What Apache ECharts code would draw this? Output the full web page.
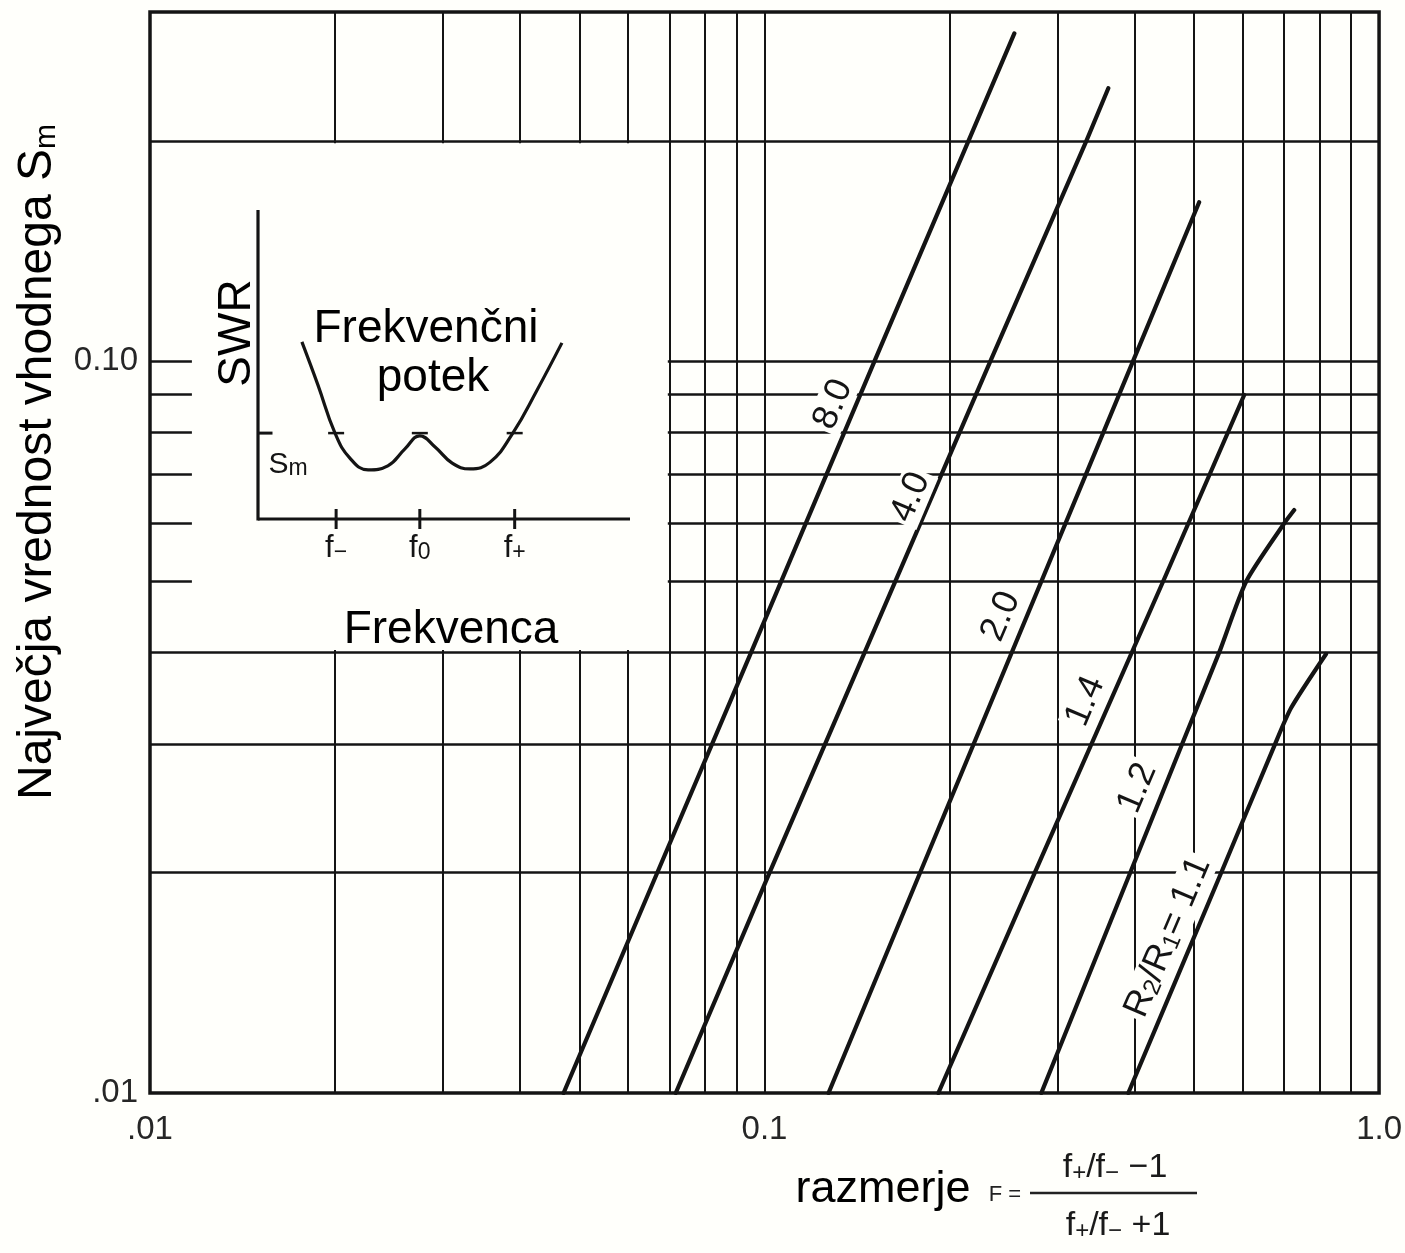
<!DOCTYPE html>
<html>
<head>
<meta charset="utf-8">
<title>Največja vrednost vhodnega S_m</title>
<script src="https://cdn.jsdelivr.net/npm/echarts@6/dist/echarts.min.js"></script>
<style>
  html, body { margin: 0; padding: 0; background: #fffffb; }
  #chart { width: 1405px; height: 1253px; }
</style>
</head>
<body>
<div id="chart"></div>
<script>
// ---- data: ratio F against the largest input SWR deviation S_m, one curve per R2/R1 ----
const ratioNames = ['8.0', '4.0', '2.0', '1.4', '1.2', '1.1'];

const curve80 = [[0.0471, 0.010], [0.0669, 0.020], [0.0951, 0.040], [0.151, 0.100], [0.255, 0.2805]];
const curve40 = [[0.0717, 0.010], [0.1019, 0.020], [0.2331, 0.100], [0.334, 0.200], [0.3626, 0.236]];
const curve20 = [[0.1271, 0.010], [0.1791, 0.020], [0.3978, 0.100], [0.5096, 0.1649]];
const curve14 = [[0.1918, 0.010], [0.2753, 0.020], [0.4452, 0.050], [0.6033, 0.0899]];
const curve12 = [[0.2821, 0.010], [0.3936, 0.020], [0.4783, 0.030], [0.5494, 0.040], [0.6078, 0.050], [0.7006, 0.060], [0.7276, 0.0626]];
const curve11 = [[0.3908, 0.010], [0.5535, 0.020], [0.6775, 0.030], [0.7194, 0.0336], [0.8199, 0.0398]];
const curves = [curve80, curve40, curve20, curve14, curve12, curve11];

// log-paper rulings
const xGridValues = [0.02, 0.03, 0.04, 0.05, 0.06, 0.07, 0.08, 0.09, 0.1, 0.2, 0.3, 0.4, 0.5, 0.6, 0.7, 0.8, 0.9];
const yGridValues = [0.02, 0.03, 0.04, 0.05, 0.06, 0.07, 0.08, 0.09, 0.1, 0.2];

const xTickValues = [0.01, 0.1, 1];
const xTickLabels = ['.01', '0.1', '1.0'];
const yTickValues = [0.01, 0.1];
const yTickLabels = ['.01', '0.10'];

// small sketch of the SWR response over frequency
const insetCurve = [[1.18, 5.73], [1.61, 4.34], [2.07, 2.78], [2.47, 1.97], [2.96, 1.59], [3.49, 1.72], [3.95, 2.27],
                    [4.35, 2.69], [4.76, 2.33], [5.22, 1.81], [5.70, 1.62], [6.24, 1.84], [6.85, 2.78], [7.50, 4.17], [8.17, 5.70]];
const insetFreqTicks = [2.1, 4.35, 6.9];
const insetFreqSubs = ['−', '0', '+'];
const insetSm = 2.78;
const insetRange = [0, 10];

// ---- layout ----
const W = 1405, H = 1253;
const GRID = { left: 150, right: 25, top: 12, bottom: 160 };
const pxPerDecadeX = (W - GRID.left - GRID.right) / 2;
const INK = '#141414';
const BG = '#fffffb';
const SANS = "'Liberation Sans', Arial, Helvetica, sans-serif";

// cleared area of the log paper that carries the sketch: [F left, S top, F right, S bottom]
const panelBox = [[0.0117, 0.1985, 0.0696, 0.0403]];

// where each curve name sits: S value along the curve and a sideways shift in px
const curveLabelPlace = [
  { s: 0.0873, dx: -23 },
  { s: 0.0652, dx: -21 },
  { s: 0.0448, dx: -26 },
  { s: 0.0343, dx: -25 },
  { s: 0.0261, dx: -27 },
  { s: 0.01633, dx: -26 }
];
const LABEL_ANGLE = 67;

function lookupLabel(v, values, labels) {
  for (let i = 0; i < values.length; i++) {
    if (Math.abs(v - values[i]) / values[i] < 1e-6) return labels[i];
  }
  return '';
}

// F on a curve at a given S, interpolated in log-log space
function fAtS(curve, s) {
  const ls = Math.log10(s);
  for (let i = 0; i < curve.length - 1; i++) {
    const la = Math.log10(curve[i][1]), lb = Math.log10(curve[i + 1][1]);
    if (ls >= la && ls <= lb) {
      const t = (ls - la) / (lb - la);
      const fa = Math.log10(curve[i][0]), fb = Math.log10(curve[i + 1][0]);
      return Math.pow(10, fa + t * (fb - fa));
    }
  }
  return curve[0][0];
}

const subRich = {
  t: { fontSize: 36, lineHeight: 36, fontFamily: SANS, color: INK },
  s: { fontSize: 24, lineHeight: 12, verticalAlign: 'bottom', fontFamily: SANS, color: INK }
};

function curveLabelText(i) {
  if (i === ratioNames.length - 1) return '{t|R}{s|2}{t|/R}{s|1}{t|= ' + ratioNames[i] + '}';
  return '{t|' + ratioNames[i] + '}';
}

const series = [];

// rulings (kept underneath everything else)
series.push({
  type: 'line', name: 'rulings', data: [], xAxisIndex: 0, yAxisIndex: 0, z: 1, silent: true,
  markLine: {
    z: 1, silent: true, symbol: ['none', 'none'], animation: false,
    label: { show: false },
    data: xGridValues.map(v => ({ xAxis: v, lineStyle: { color: INK, width: 2, type: 'solid' } }))
      .concat(yGridValues.map(v => ({ yAxis: v, lineStyle: { color: INK, width: 2.6, type: 'solid' } })))
  }
});

// clear panel that holds the sketch
series.push({
  type: 'custom', name: 'panel', xAxisIndex: 0, yAxisIndex: 0, z: 2, silent: true, clip: false,
  data: panelBox,
  encode: { x: [0, 2], y: [1, 3] },
  renderItem: function (params, api) {
    const p1 = api.coord([api.value(0), api.value(1)]);
    const p2 = api.coord([api.value(2), api.value(3)]);
    return { type: 'rect', z2: 10, shape: { x: p1[0], y: p1[1], width: p2[0] - p1[0], height: p2[1] - p1[1] },
             style: { fill: BG } };
  }
});

curves.forEach((c, i) => {
  const place = curveLabelPlace[i];
  const fc = fAtS(c, place.s);
  const fl = fc * Math.pow(10, place.dx / pxPerDecadeX);
  series.push({
    type: 'line', name: 'R2/R1 = ' + ratioNames[i], data: c, xAxisIndex: 0, yAxisIndex: 0, z: 3,
    showSymbol: false, smooth: i >= 4 ? 0.22 : false,
    lineStyle: { color: INK, width: 4.2, cap: 'round', join: 'round' },
    markPoint: {
      z: 6, silent: true, animation: false, symbol: 'circle', symbolSize: 2,
      itemStyle: { color: BG, opacity: 1 },
      data: [{
        coord: [fl, place.s],
        label: {
          show: true, position: 'inside', rotate: LABEL_ANGLE,
          formatter: curveLabelText(i), rich: subRich,
          backgroundColor: BG, padding: [0, 3, 0, 3]
        }
      }]
    }
  });
});

// sketch axes
series.push({
  type: 'custom', name: 'sketch axes', xAxisIndex: 1, yAxisIndex: 1, z: 5, silent: true, clip: false,
  data: [[insetRange[0], insetRange[0]]],
  renderItem: function (params, api) {
    const o = api.coord([insetRange[0], insetRange[0]]);
    const xe = api.coord([insetRange[1], insetRange[0]]);
    const ye = api.coord([insetRange[0], insetRange[1]]);
    return { type: 'group', children: [
      { type: 'line', shape: { x1: o[0], y1: o[1], x2: xe[0], y2: xe[1] }, style: { stroke: INK, lineWidth: 3.2 } },
      { type: 'line', shape: { x1: o[0], y1: o[1] + 1.5, x2: ye[0], y2: ye[1] }, style: { stroke: INK, lineWidth: 3.2 } }
    ] };
  }
});
// sketch curve
series.push({
  type: 'line', name: 'SWR', data: insetCurve, xAxisIndex: 1, yAxisIndex: 1, z: 5,
  showSymbol: false, smooth: 0.45, lineStyle: { color: INK, width: 3.2 }
});
// frequency ticks with f-, f0, f+
series.push({
  type: 'scatter', data: insetFreqTicks.map(v => [v, 0]), xAxisIndex: 1, yAxisIndex: 1, z: 5,
  symbol: 'rect', symbolSize: [3, 20], clip: false, itemStyle: { color: INK, opacity: 1 },
  label: {
    show: true, position: 'bottom', distance: 4,
    formatter: p => '{f|f}{s|' + insetFreqSubs[p.dataIndex] + '}',
    rich: {
      f: { fontSize: 31, lineHeight: 31, fontFamily: SANS, color: INK },
      s: { fontSize: 23, lineHeight: 10, verticalAlign: 'bottom', fontFamily: SANS, color: INK }
    }
  }
});
// S_m marks on the curve
series.push({
  type: 'scatter', data: insetFreqTicks.map(v => [v, insetSm]), xAxisIndex: 1, yAxisIndex: 1, z: 5,
  symbol: 'rect', symbolSize: [16, 2.5], clip: false, itemStyle: { color: INK, opacity: 1 }
});
// S_m tick on the SWR axis
series.push({
  type: 'scatter', data: [[insetRange[0], insetSm]], xAxisIndex: 1, yAxisIndex: 1, z: 5,
  symbol: 'rect', symbolSize: [15, 3], symbolOffset: [7, 0], clip: false, itemStyle: { color: INK, opacity: 1 },
  label: {
    show: true, position: 'inside', offset: [23, 32],
    formatter: '{a|S}{b|m}',
    rich: {
      a: { fontSize: 30, lineHeight: 30, fontFamily: SANS, color: INK },
      b: { fontSize: 23, lineHeight: 10, verticalAlign: 'bottom', fontFamily: SANS, color: INK }
    }
  }
});

const option = {
  backgroundColor: BG,
  animation: false,
  grid: [
    { left: GRID.left, right: GRID.right, top: GRID.top, bottom: GRID.bottom, show: true,
      borderColor: INK, borderWidth: 3.5, backgroundColor: 'transparent' },
    { left: 258, top: 210, width: 372, height: 309, show: false }
  ],
  xAxis: [
    { type: 'log', logBase: 10, min: 0.01, max: 1, gridIndex: 0,
      axisLine: { show: false }, axisTick: { show: false }, splitLine: { show: false }, minorSplitLine: { show: false },
      axisLabel: { customValues: xTickValues, margin: 20, fontSize: 33, fontFamily: SANS, color: '#262626',
                   formatter: v => lookupLabel(v, xTickValues, xTickLabels) } },
    { type: 'value', min: insetRange[0], max: insetRange[1], gridIndex: 1,
      axisLine: { show: false }, axisTick: { show: false }, splitLine: { show: false }, axisLabel: { show: false } }
  ],
  yAxis: [
    { type: 'log', logBase: 10, min: 0.01, max: 0.3, gridIndex: 0,
      axisLine: { show: false }, axisTick: { show: false }, splitLine: { show: false }, minorSplitLine: { show: false },
      axisLabel: { customValues: yTickValues, margin: 12, fontSize: 33, fontFamily: SANS, color: '#262626',
                   formatter: v => lookupLabel(v, yTickValues, yTickLabels) } },
    { type: 'value', min: insetRange[0], max: insetRange[1], gridIndex: 1,
      axisLine: { show: false }, axisTick: { show: false }, splitLine: { show: false }, axisLabel: { show: false } }
  ],
  graphic: [
    { type: 'text', x: 38, y: 462, rotation: Math.PI / 2, z: 10,
      style: { text: '{a|Največja vrednost vhodnega S}{b|m}', align: 'center', verticalAlign: 'middle',
        rich: {
          a: { fontSize: 48, lineHeight: 48, fontFamily: SANS, fill: '#000', color: '#000' },
          b: { fontSize: 30, lineHeight: 14, verticalAlign: 'bottom', fontFamily: SANS, fill: '#000', color: '#000' }
        } } },
    { type: 'text', x: 237, y: 333, rotation: Math.PI / 2, z: 10,
      style: { text: 'SWR', font: '46px ' + SANS, fill: '#000', align: 'center', verticalAlign: 'middle' } },
    { type: 'text', x: 426, y: 329, z: 10,
      style: { text: 'Frekvenčni', font: '46px ' + SANS, fill: '#000', align: 'center', verticalAlign: 'middle' } },
    { type: 'text', x: 433, y: 378, z: 10,
      style: { text: 'potek', font: '46px ' + SANS, fill: '#000', align: 'center', verticalAlign: 'middle' } },
    { type: 'text', x: 451, y: 630, z: 10,
      style: { text: 'Frekvenca', font: '46px ' + SANS, fill: '#000', align: 'center', verticalAlign: 'middle' } },
    { type: 'text', x: 883, y: 1190, z: 10,
      style: { text: 'razmerje', font: '45px ' + SANS, fill: '#000', align: 'center', verticalAlign: 'middle' } },
    { type: 'text', x: 1005, y: 1195, z: 10,
      style: { text: 'F =', font: '22px ' + SANS, fill: '#222', align: 'center', verticalAlign: 'middle' } },
    { type: 'text', x: 1115, y: 1168, z: 10,
      style: { text: '{t|f}{s|+}{t|/f}{s|−}{t| −1}', align: 'center', verticalAlign: 'middle',
        rich: { t: { fontSize: 34, lineHeight: 34, fontFamily: SANS, fill: '#1a1a1a', color: '#1a1a1a' },
                s: { fontSize: 24, lineHeight: 12, verticalAlign: 'bottom', fontFamily: SANS, fill: '#1a1a1a', color: '#1a1a1a' } } } },
    { type: 'line', z: 10, shape: { x1: 1030, y1: 1193, x2: 1197, y2: 1193 }, style: { stroke: '#222', lineWidth: 2.5 } },
    { type: 'text', x: 1118, y: 1226, z: 10,
      style: { text: '{t|f}{s|+}{t|/f}{s|−}{t| +1}', align: 'center', verticalAlign: 'middle',
        rich: { t: { fontSize: 34, lineHeight: 34, fontFamily: SANS, fill: '#1a1a1a', color: '#1a1a1a' },
                s: { fontSize: 24, lineHeight: 12, verticalAlign: 'bottom', fontFamily: SANS, fill: '#1a1a1a', color: '#1a1a1a' } } } }
  ],
  series: series
};

const chart = echarts.init(document.getElementById('chart'), null, { renderer: 'canvas', width: W, height: H });
chart.setOption(option);
</script>
</body>
</html>
